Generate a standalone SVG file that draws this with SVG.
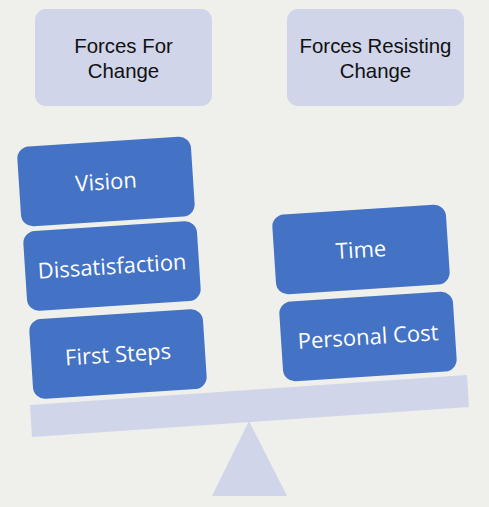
<svg xmlns="http://www.w3.org/2000/svg" width="489" height="507" viewBox="0 0 489 507">
<style>
.bg{fill:#efefec}
.hdr{fill:#d0d5e9}
.hdrt{font-family:"Liberation Sans",Arial,sans-serif;font-size:20.4px;fill:#111;text-anchor:middle}
.blk{fill:#4472c4}
.blkt{font-family:"Open Sans","Liberation Sans",sans-serif;font-size:22px;fill:#fff;text-anchor:middle}
.lev{fill:#d0d5e9}
</style>
<rect class="bg" x="0" y="0" width="489" height="507"/>
<g id="header-for">
<rect class="hdr" x="35" y="9" width="177" height="97" rx="11"/>
<text class="hdrt" x="123.5" y="52.5">Forces For</text>
<text class="hdrt" x="123.5" y="77.5">Change</text>
</g>
<g id="header-resisting">
<rect class="hdr" x="287" y="9" width="177" height="97" rx="11"/>
<text class="hdrt" x="375.5" y="52.5">Forces Resisting</text>
<text class="hdrt" x="375.5" y="77.5">Change</text>
</g>
<g id="fulcrum">
<polygon class="lev" points="249,421 212,496 287,496"/>
</g>
<g id="beam">
<polygon class="lev" points="30,405 467,375 469,407 32,437"/>
</g>
<g id="vision" transform="translate(106,181.5) rotate(-3.7)">
<rect class="blk" x="-87" y="-40" width="174" height="80" rx="12"/>
<text class="blkt" x="0" y="8">Vision</text>
</g>
<g id="dissatisfaction" transform="translate(112,266) rotate(-3.7)">
<rect class="blk" x="-87" y="-40" width="174" height="80" rx="12"/>
<text class="blkt" x="0" y="8">Dissatisfaction</text>
</g>
<g id="first-steps" transform="translate(118,354) rotate(-3.7)">
<rect class="blk" x="-87" y="-40" width="174" height="80" rx="12"/>
<text class="blkt" x="0" y="8">First Steps</text>
</g>
<g id="time" transform="translate(361,249.5) rotate(-3.7)">
<rect class="blk" x="-87" y="-40" width="174" height="80" rx="12"/>
<text class="blkt" x="0" y="8">Time</text>
</g>
<g id="personal-cost" transform="translate(368,336.5) rotate(-3.7)">
<rect class="blk" x="-87" y="-40" width="174" height="80" rx="12"/>
<text class="blkt" x="0" y="8">Personal Cost</text>
</g>
<g id="connectors"/>
</svg>
